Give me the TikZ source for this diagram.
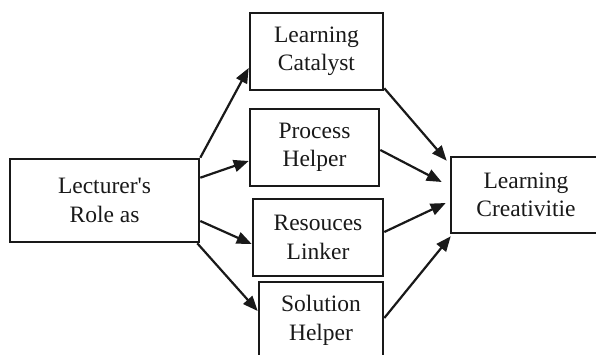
\documentclass[tikz,border=0pt]{standalone}
\usepackage{fontspec}
\setmainfont{Liberation Serif}[Ligatures=TeXOff]
\usetikzlibrary{calc,arrows.meta}
\begin{document}
\begin{tikzpicture}[x=1pt,y=-1pt,
  box/.style={draw=black!90,line width=2.6pt,rectangle,inner sep=0pt,align=center,
    font=\fontsize{23.5}{28.5}\selectfont,text=black!90},
  conn/.style={draw=black!90,line width=2.2pt,-{Triangle[length=15pt,width=12pt]}}]
\clip (0,0) rectangle (596,355);
\fill[white] (0,0) rectangle (596,355);
\node[box,minimum width=189pt,minimum height=83pt] (lect) at (104.5,200.5) {Lecturer's\\Role as};
\node[box,minimum width=133pt,minimum height=77pt] (cat) at (316.5,51.5) {Learning\\Catalyst};
\node[box,minimum width=129pt,minimum height=77pt] (proc) at (314.5,147.5) {Process\\Helper};
\node[box,minimum width=130pt,minimum height=77pt] (res) at (318,237.5) {Resouces\\Linker};
\node[box,minimum width=124pt,minimum height=77pt] (sol) at (321,320.5) {Solution\\Helper};
\node[box,minimum width=150pt,minimum height=76pt] (cre) at (526,195) {Learning\\Creativitie};
\draw[conn] (lect.north east) -- ($(cat.west)+(0,16.5)$);
\draw[conn] ($(lect.north east)+(0,20)$) -- ($(proc.west)+(0,13.5)$);
\draw[conn] ($(lect.east)+(0,20.5)$) -- ($(res.west)+(0,6.5)$);
\draw[conn] ($(lect.south east)+(-3,0)$) -- ($(sol.west)+(0,-9.5)$);
\draw[conn] ($(cat.south east)+(0,-3)$) -- ($(cre.north west)+(-3,5)$);
\draw[conn] ($(proc.east)+(0,2.5)$) -- ($(cre.west)+(-8,-13)$);
\draw[conn] ($(res.east)+(0,-5.5)$) -- ($(cre.west)+(-4,8)$);
\draw[conn] ($(sol.east)+(0,-2.5)$) -- ($(cre.south west)+(1,2)$);
\end{tikzpicture}
\end{document}
